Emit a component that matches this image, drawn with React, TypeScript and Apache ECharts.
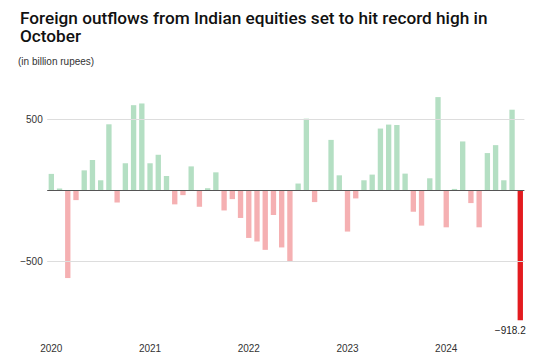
import React, { useEffect, useRef } from "react";
import * as echarts from "echarts";

const titleLine1 = "Foreign outflows from Indian equities set to hit record high in";
const titleLine2 = "October";
const subtitleText = "(in billion rupees)";

const years = ["2020", "2021", "2022", "2023", "2024"];
const monthNames = ["Jan", "Feb", "Mar", "Apr", "May", "Jun", "Jul", "Aug", "Sep", "Oct", "Nov", "Dec"];

const values2020 = [115, 12, -620, -70, 140, 213, 70, 465, -87, 190, 600, 612];
const values2021 = [190, 250, 100, -100, -35, 168, -117, 14, 126, -143, -63, -196];
const values2022 = [-337, -362, -421, -175, -404, -505, 47, 505, -84, 0, 355, 105];
const values2023 = [-292, -58, 70, 110, 435, 463, 460, 117, -152, -250, 84, 657];
const values2024 = [-262, 9, 344, -91, -262, 262, 318, 70, 568, -918.2];

const yTickLabels = [500, -500];
const lastLabel = "\u2212918.2";

const allValues = [...values2020, ...values2021, ...values2022, ...values2023, ...values2024];
const categories = allValues.map((_, i) => `${monthNames[i % 12]} ${years[Math.floor(i / 12)]}`);

const GREEN = "#b4dfc3";
const PINK = "#f5b0b2";
const RED = "#e31b1f";
const FONT = "Liberation Sans, Arial, sans-serif";

const titleStyle = {
  fontFamily: "Roboto, sans-serif",
  fontSize: 17.2,
  lineHeight: 17.6,
  fontWeight: 500,
  color: "#111",
};

export default function App() {
  const ref = useRef<HTMLDivElement>(null);
  useEffect(() => {
    if (!ref.current) return;
    const chart = echarts.init(ref.current, undefined, { renderer: "svg" });
    const lastIndex = allValues.length - 1;
    const data = allValues.map((v, i) => {
      if (i === lastIndex) {
        return {
          value: v,
          itemStyle: { color: RED },
          label: {
            show: true,
            position: "bottom",
            distance: 5,
            offset: [-10, 0],
            formatter: lastLabel,
            fontFamily: FONT,
            fontSize: 10,
            color: "#222",
          },
        };
      }
      return { value: v, itemStyle: { color: v >= 0 ? GREEN : PINK } };
    });
    chart.setOption({
      animation: false,
      textStyle: { fontFamily: FONT },
      title: [
        { text: titleLine1, left: 20, top: 9.6, padding: 0, textStyle: titleStyle },
        { text: titleLine2, left: 20, top: 27.3, padding: 0, textStyle: titleStyle },
        {
          text: subtitleText,
          left: 18,
          top: 55,
          padding: 0,
          textStyle: {
            fontFamily: FONT,
            fontSize: 10,
            lineHeight: 12,
            fontWeight: "normal",
            color: "#333",
          },
        },
      ],
      grid: { left: 47.2, right: 25.6, top: 91, bottom: 31.1, containLabel: false },
      xAxis: {
        type: "category",
        data: categories,
        boundaryGap: true,
        axisLine: { show: false, onZero: false },
        axisTick: { show: false },
        splitLine: { show: false },
        axisLabel: {
          interval: (i: number) => i % 12 === 0,
          formatter: (v: string) => v.split(" ")[1],
          margin: 12,
          fontSize: 10,
          color: "#333",
          fontFamily: FONT,
        },
      },
      yAxis: {
        type: "value",
        min: -1000,
        max: 700,
        interval: 500,
        axisLine: { show: false },
        axisTick: { show: false },
        splitLine: { show: false },
        axisLabel: {
          margin: 4.5,
          fontSize: 10,
          color: "#333",
          fontFamily: FONT,
          formatter: (v: number) =>
            yTickLabels.includes(v) ? (v < 0 ? "\u2212" + Math.abs(v) : String(v)) : "",
        },
      },
      series: [
        {
          type: "line",
          data: allValues.map(() => null),
          z: 1,
          silent: true,
          showSymbol: false,
          markLine: {
            silent: true,
            symbol: "none",
            label: { show: false },
            lineStyle: { color: "#dddddd", width: 1, type: "solid" },
            data: yTickLabels.map((v) => ({ yAxis: v })),
          },
        },
        {
          type: "bar",
          data,
          z: 2,
          barCategoryGap: "35%",
          markLine: {
            silent: true,
            symbol: "none",
            label: { show: false },
            lineStyle: { color: "#555555", width: 1, type: "solid" },
            data: [{ yAxis: 0 }],
          },
        },
      ],
    });
    return () => chart.dispose();
  }, []);
  return (
    <div
      ref={ref}
      style={{ position: "absolute", left: 0, top: 0, width: 550, height: 363, background: "#fff" }}
    />
  );
}
